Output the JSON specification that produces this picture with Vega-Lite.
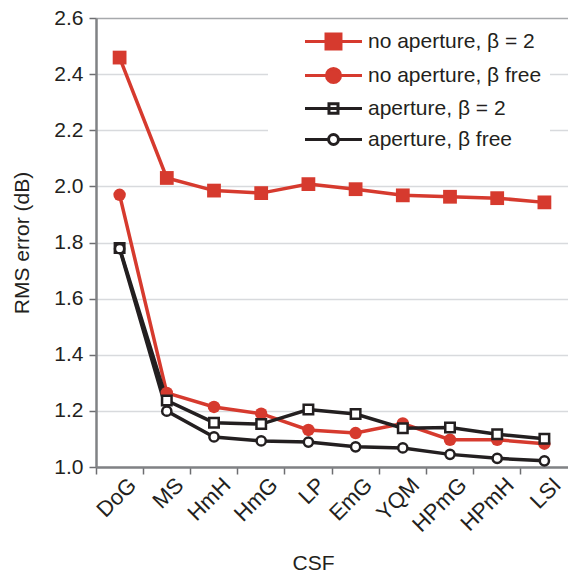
{
  "$schema": "https://vega.github.io/schema/vega-lite/v6.json",
  "width": 472,
  "height": 449,
  "autosize": {"type": "none"},
  "padding": {"left": 96, "top": 18, "right": 0, "bottom": 106},
  "background": "white",
  "config": {
    "view": {"stroke": null},
    "font": "Liberation Sans",
    "axis": {"labelColor": "#231f20", "titleColor": "#231f20", "titleFontWeight": "normal"}
  },
  "data": {
    "values": [
      {"csf": "DoG", "series": "no aperture, β = 2", "v": 2.459},
      {"csf": "MS", "series": "no aperture, β = 2", "v": 2.03},
      {"csf": "HmH", "series": "no aperture, β = 2", "v": 1.985},
      {"csf": "HmG", "series": "no aperture, β = 2", "v": 1.976},
      {"csf": "LP", "series": "no aperture, β = 2", "v": 2.008},
      {"csf": "EmG", "series": "no aperture, β = 2", "v": 1.99},
      {"csf": "YQM", "series": "no aperture, β = 2", "v": 1.968},
      {"csf": "HPmG", "series": "no aperture, β = 2", "v": 1.963},
      {"csf": "HPmH", "series": "no aperture, β = 2", "v": 1.958},
      {"csf": "LSI", "series": "no aperture, β = 2", "v": 1.943},
      {"csf": "DoG", "series": "no aperture, β free", "v": 1.97},
      {"csf": "MS", "series": "no aperture, β free", "v": 1.264},
      {"csf": "HmH", "series": "no aperture, β free", "v": 1.214},
      {"csf": "HmG", "series": "no aperture, β free", "v": 1.19},
      {"csf": "LP", "series": "no aperture, β free", "v": 1.132},
      {"csf": "EmG", "series": "no aperture, β free", "v": 1.121},
      {"csf": "YQM", "series": "no aperture, β free", "v": 1.155},
      {"csf": "HPmG", "series": "no aperture, β free", "v": 1.097},
      {"csf": "HPmH", "series": "no aperture, β free", "v": 1.097},
      {"csf": "LSI", "series": "no aperture, β free", "v": 1.083},
      {"csf": "DoG", "series": "aperture, β = 2", "v": 1.78},
      {"csf": "MS", "series": "aperture, β = 2", "v": 1.237},
      {"csf": "HmH", "series": "aperture, β = 2", "v": 1.158},
      {"csf": "HmG", "series": "aperture, β = 2", "v": 1.153},
      {"csf": "LP", "series": "aperture, β = 2", "v": 1.205},
      {"csf": "EmG", "series": "aperture, β = 2", "v": 1.189},
      {"csf": "YQM", "series": "aperture, β = 2", "v": 1.138},
      {"csf": "HPmG", "series": "aperture, β = 2", "v": 1.141},
      {"csf": "HPmH", "series": "aperture, β = 2", "v": 1.117},
      {"csf": "LSI", "series": "aperture, β = 2", "v": 1.101},
      {"csf": "DoG", "series": "aperture, β free", "v": 1.778},
      {"csf": "MS", "series": "aperture, β free", "v": 1.199},
      {"csf": "HmH", "series": "aperture, β free", "v": 1.107},
      {"csf": "HmG", "series": "aperture, β free", "v": 1.093},
      {"csf": "LP", "series": "aperture, β free", "v": 1.089},
      {"csf": "EmG", "series": "aperture, β free", "v": 1.072},
      {"csf": "YQM", "series": "aperture, β free", "v": 1.068},
      {"csf": "HPmG", "series": "aperture, β free", "v": 1.045},
      {"csf": "HPmH", "series": "aperture, β free", "v": 1.031},
      {"csf": "LSI", "series": "aperture, β free", "v": 1.022}
    ]
  },
  "encoding": {
    "x": {
      "field": "csf",
      "type": "nominal",
      "sort": ["DoG", "MS", "HmH", "HmG", "LP", "EmG", "YQM", "HPmG", "HPmH", "LSI"],
      "scale": {"type": "band", "paddingInner": 0, "paddingOuter": 0},
      "axis": {
        "bandPosition": 0,
        "labelAngle": -45,
        "labelFontSize": 22,
        "labelOffset": 6,
        "labelPadding": 0,
        "tickSize": 7,
        "tickWidth": 1.5,
        "tickColor": "#6d6e71",
        "domainColor": "#808285",
        "domainWidth": 2.5,
        "title": "CSF",
        "titleFontSize": 21,
        "titleX": 217,
        "titleY": 85
      }
    },
    "y": {
      "field": "v",
      "type": "quantitative",
      "scale": {"domain": [1, 2.6], "zero": false, "nice": false},
      "axis": {
        "values": [1, 1.2, 1.4, 1.6, 1.8, 2, 2.2, 2.4, 2.6],
        "format": ".1f",
        "labelFontSize": 21,
        "labelPadding": 6,
        "tickSize": 7,
        "tickWidth": 1.5,
        "tickColor": "#6d6e71",
        "domainColor": "#808285",
        "domainWidth": 2.5,
        "grid": true,
        "gridColor": {"condition": {"test": "datum.value == 2.6", "value": "#a7a9ac"}, "value": "#d8dadd"},
        "gridWidth": 1.5,
        "title": "RMS error (dB)",
        "titleFontSize": 21,
        "titlePadding": 21
      }
    }
  },
  "layer": [
    {
      "mark": {"type": "line", "strokeWidth": 3.5},
      "encoding": {
        "stroke": {
          "field": "series",
          "type": "nominal",
          "scale": {
            "domain": ["no aperture, β = 2", "no aperture, β free", "aperture, β = 2", "aperture, β free"],
            "range": ["#d63a2e", "#d63a2e", "#231f20", "#231f20"]
          },
          "legend": {
            "title": null,
            "orient": "none",
            "legendX": 172,
            "legendY": 3,
            "padding": 8,
            "fillColor": "white",
            "labelFontSize": 21,
            "labelColor": "#231f20",
            "labelOffset": 67,
            "labelLimit": 300,
            "symbolSize": 484,
            "symbolStrokeWidth": 3,
            "rowPadding": 7,
            "symbolOpacity": 1,
            "encode": {
              "symbols": {
                "update": {
                  "shape": {"signal": "datum.value === 'no aperture, β = 2' ? 'M1.5,0H6.68M3.41,-0.68H4.77V0.68H3.41Z' : datum.value === 'no aperture, β free' ? 'M1.5,0H6.68M3.45,0A0.64,0.64 0 1,0 4.73,0A0.64,0.64 0 1,0 3.45,0Z' : datum.value === 'aperture, β = 2' ? 'M1.5,0H6.68M3.68,-0.43H4.5V0.43H3.68Z' : 'M1.5,0H3.64M4.54,0H6.68M3.64,0A0.45,0.45 0 1,0 4.54,0A0.45,0.45 0 1,0 3.64,0Z'"},
                  "fill": {"signal": "indexof(datum.value, 'no aperture') === 0 ? '#d63a2e' : '#ffffff'"},
                  "stroke": {"signal": "indexof(datum.value, 'no aperture') === 0 ? '#d63a2e' : '#231f20'"},
                  "size": {"value": 484},
                  "strokeWidth": {"value": 3},
                  "opacity": {"value": 1}
                }
              }
            }
          }
        }
      }
    },
    {
      "transform": [{"filter": {"field": "series", "equal": "no aperture, β = 2"}}],
      "mark": {"type": "point", "shape": "square", "size": 190, "filled": true, "color": "#d63a2e", "opacity": 1}
    },
    {
      "transform": [{"filter": {"field": "series", "equal": "no aperture, β free"}}],
      "mark": {"type": "point", "shape": "circle", "size": 155, "filled": true, "color": "#d63a2e", "opacity": 1}
    },
    {
      "transform": [{"filter": {"field": "series", "equal": "aperture, β = 2"}}],
      "mark": {"type": "point", "shape": "square", "size": 90, "fill": "#ffffff", "stroke": "#231f20", "strokeWidth": 2.5, "opacity": 1, "fillOpacity": 1}
    },
    {
      "transform": [{"filter": {"field": "series", "equal": "aperture, β free"}}],
      "mark": {"type": "point", "shape": "circle", "size": 85, "fill": "#ffffff", "stroke": "#231f20", "strokeWidth": 2.5, "opacity": 1, "fillOpacity": 1}
    }
  ]
}
